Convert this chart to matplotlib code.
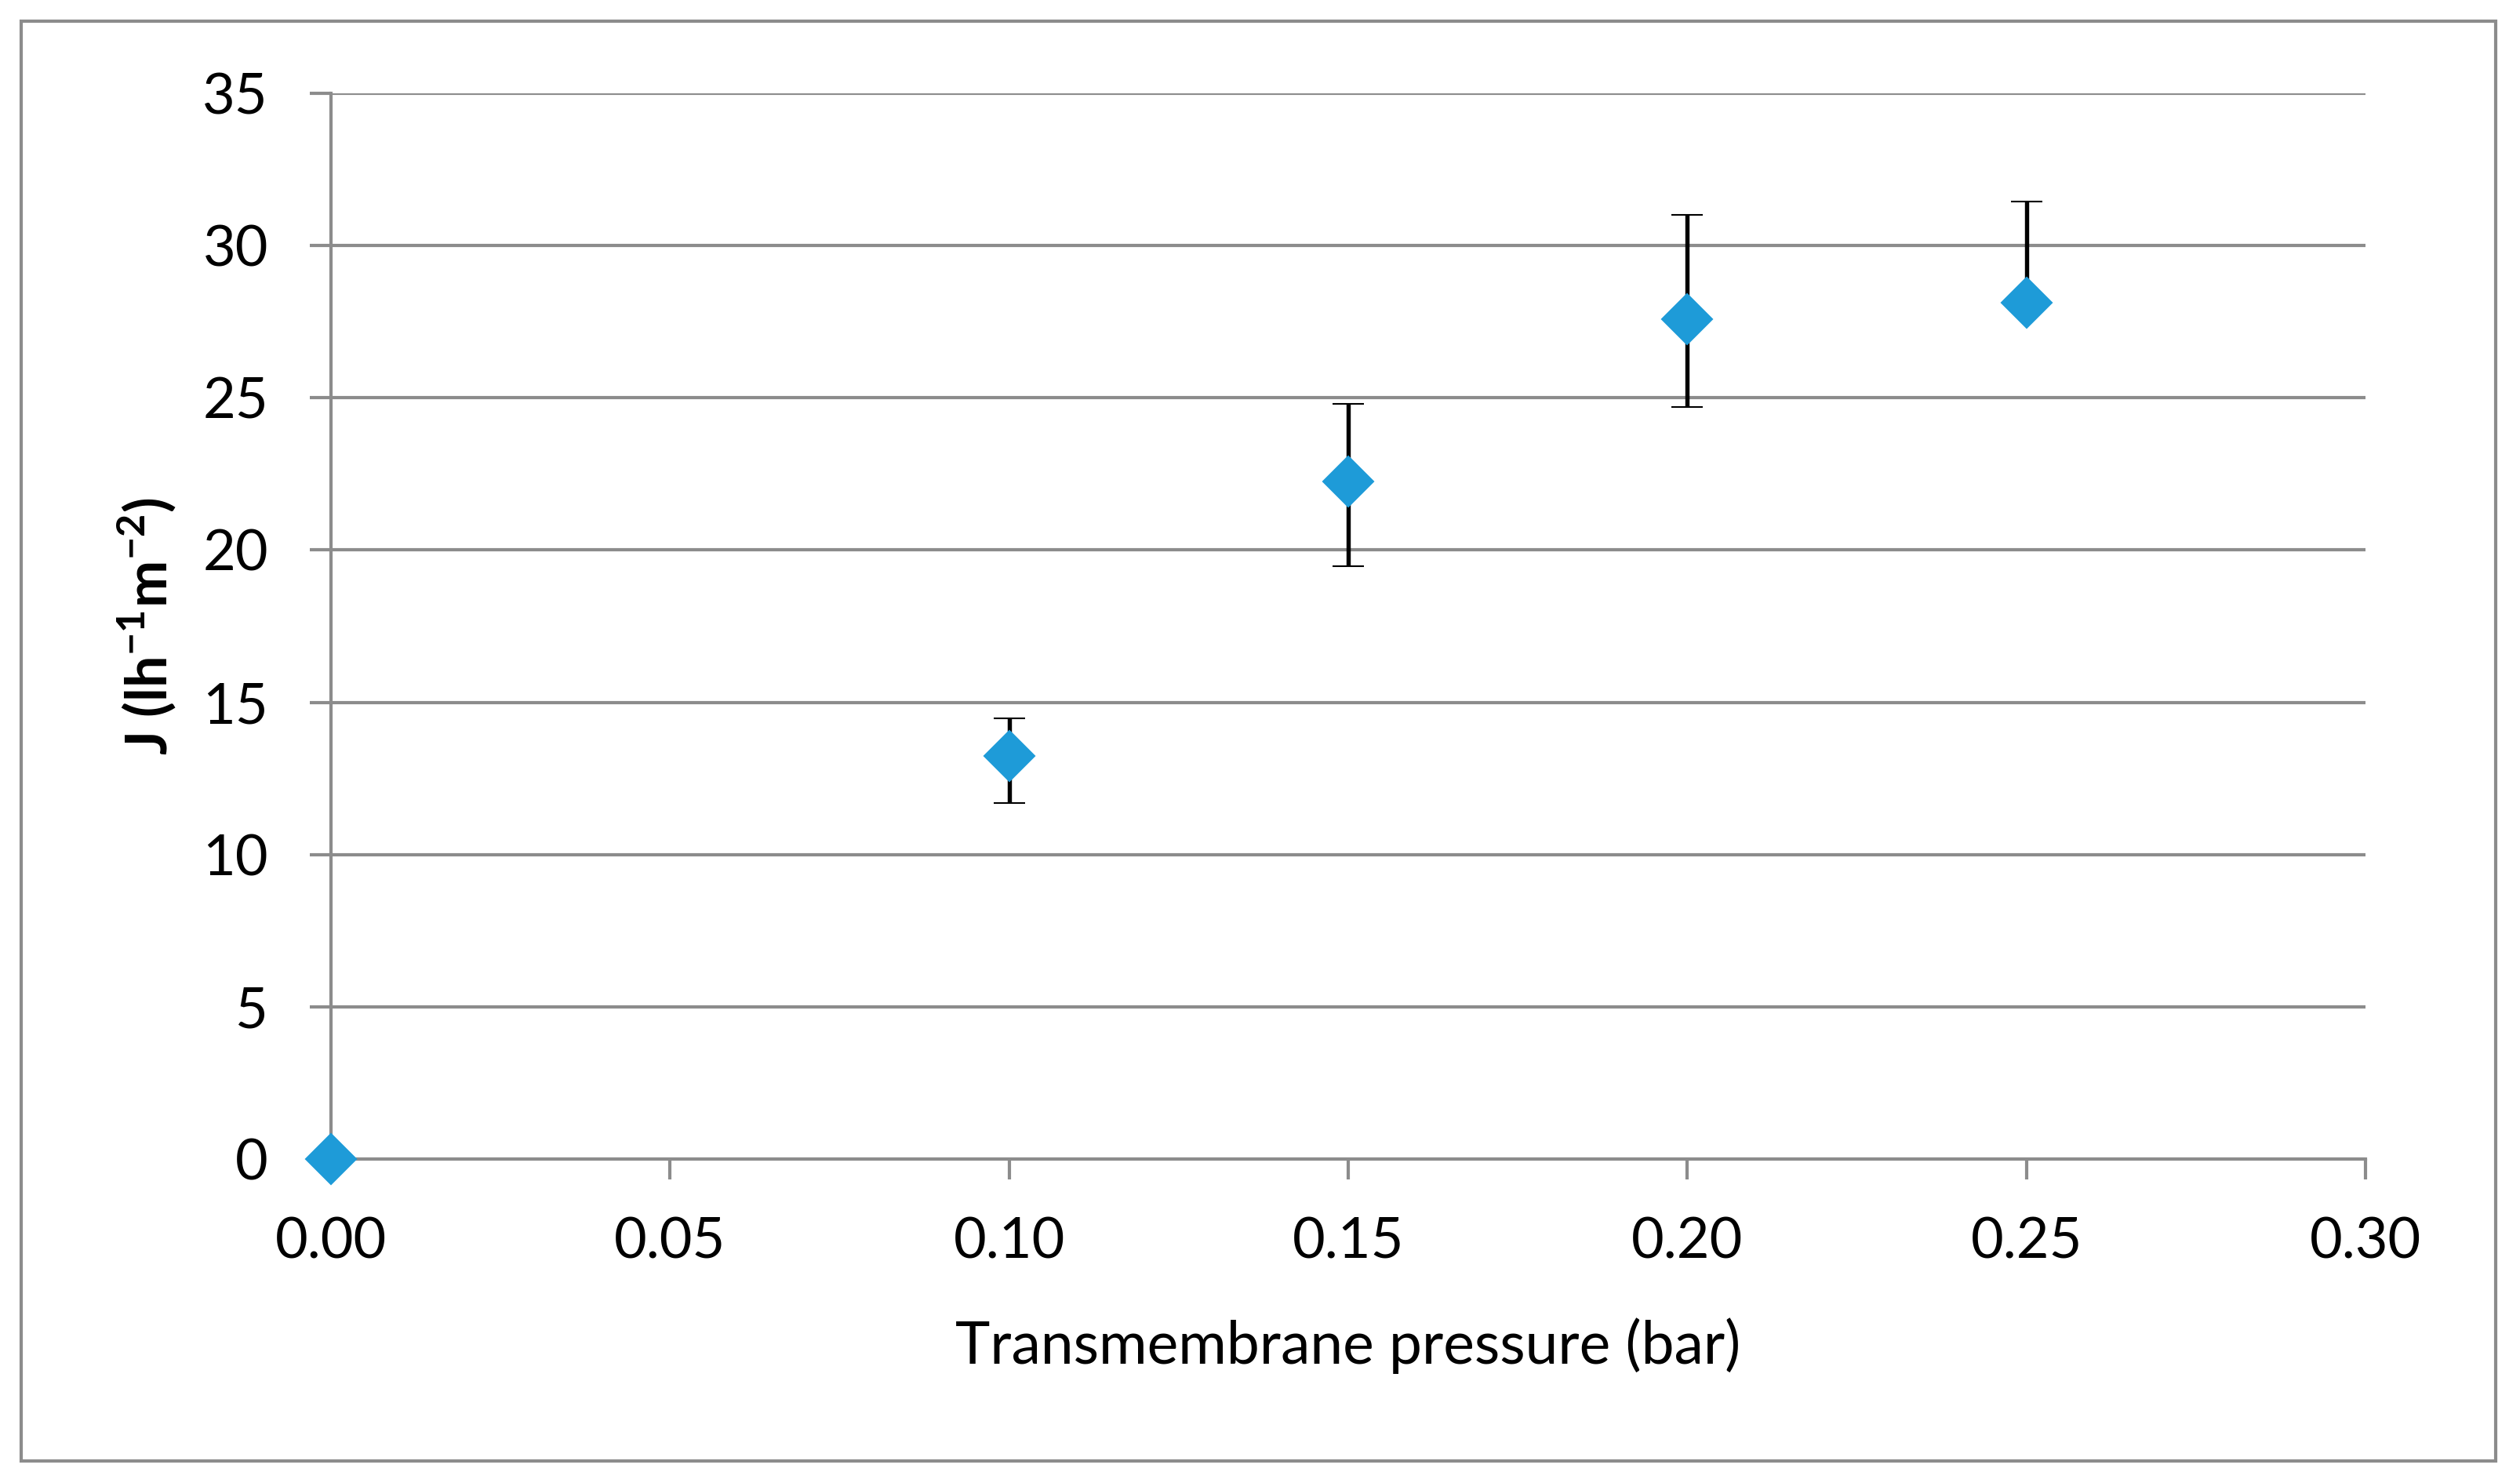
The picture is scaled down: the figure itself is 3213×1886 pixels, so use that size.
import matplotlib
matplotlib.use("Agg")
import matplotlib.pyplot as plt
from matplotlib.patches import Rectangle

plt.rcParams["font.family"] = ["Lato", "DejaVu Sans"]
plt.rcParams["mathtext.fontset"] = "custom"
plt.rcParams["mathtext.rm"] = "Lato"
plt.rcParams["mathtext.bf"] = "Lato:bold"

# data
tmp = [0.00, 0.10, 0.15, 0.20, 0.25]
flux = [0.0, 13.24, 22.25, 27.59, 28.12]
err_lo = [0.0, 1.54, 2.77, 2.90, 0.15]
err_hi = [0.0, 1.24, 2.56, 3.43, 3.33]
xticks = [0.00, 0.05, 0.10, 0.15, 0.20, 0.25, 0.30]
yticks = [0, 5, 10, 15, 20, 25, 30, 35]

BLUE = "#1E9BD8"; GRAY = "#8C8C8C"
W, H = 3213, 1886
fig = plt.figure(figsize=(W/300, H/300), dpi=300)
L, R, T, B = 422, 3016, 119, 1478
ax = fig.add_axes([L/W, 1-B/H, (R-L)/W, (B-T)/H])

ax.errorbar(tmp, flux, yerr=[err_lo, err_hi], fmt="D", ms=10.7, mfc=BLUE, mec=BLUE, mew=0.5,
            ecolor="black", elinewidth=1.3, capsize=4.7, capthick=1.3, clip_on=False, zorder=3)

ax.set_xlim(0, 0.30); ax.set_ylim(0, 35)
ax.set_xticks(xticks); ax.set_xticklabels([f"{v:.2f}" for v in xticks])
ax.set_yticks(yticks); ax.set_yticklabels([str(v) for v in yticks])
ax.yaxis.grid(True, color=GRAY, lw=1.0); ax.set_axisbelow(True)
for s in ["top", "right"]: ax.spines[s].set_visible(False)
for s in ["left", "bottom"]: ax.spines[s].set_color(GRAY); ax.spines[s].set_linewidth(1.0)
ax.tick_params(axis="y", length=6.5, width=1.0, color=GRAY, pad=12.7, labelsize=17.3)
ax.tick_params(axis="x", length=6.2, width=1.0, color=GRAY, pad=11.5, labelsize=17.3)

ax.set_xlabel("Transmembrane pressure (bar)", fontsize=18)
ax.xaxis.set_label_coords(0.5, -0.1486)
ax.set_ylabel(r"J (lh$^{\mathbf{-1}}$m$^{\mathbf{-2}}$)", fontsize=17.3, fontweight="bold")
ax.yaxis.set_label_coords(-0.075, 0.5)

fig.patches.append(Rectangle((27/W, 1-1863/H), (3182-27)/W, (1863-27)/H, transform=fig.transFigure,
                             fill=False, edgecolor=GRAY, lw=1.0))
fig.savefig("out.png", dpi=300)
